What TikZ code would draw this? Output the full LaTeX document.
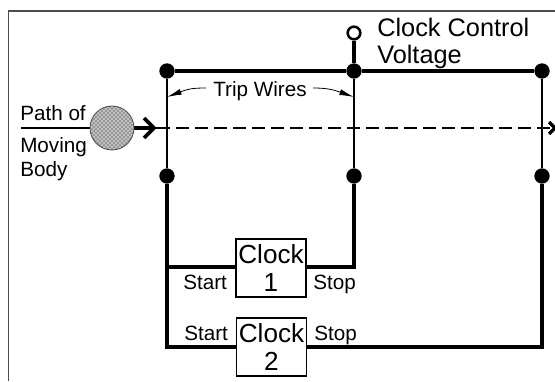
\documentclass[tikz,border=0pt]{standalone}
\usepackage{fontspec}
\setmainfont{Liberation Sans}
\usetikzlibrary{patterns,arrows.meta}
\tikzset{
 thick wire/.style={line width=2.8pt,line cap=butt},
 thin wire/.style={line width=2pt},
 dotnode/.style={circle,fill=black,inner sep=0pt,minimum size=11.5pt},
 opennode/.style={circle,draw=black,fill=white,line width=1.9pt,inner sep=0pt,minimum size=9.5pt},
 clockbox/.style={draw=black,fill=white,line width=0.9pt,inner sep=0pt,align=center,font=\fontsize{19.6}{21.7}\selectfont},
 lab/.style={inner sep=0pt,anchor=base west,font=\fontsize{15.5}{17}\selectfont},
 biglab/.style={inner sep=0pt,anchor=base west,font=\fontsize{19}{21}\selectfont},
 pointer/.style={line width=0.6pt,-{Latex[length=11pt,width=4.5pt]}},
}
\begin{document}
\begin{tikzpicture}[x=0.75pt,y=-0.75pt]
\useasboundingbox (0,0) rectangle (555,381);
\draw[line width=0.8pt,draw=black!70] (8.5,381) -- (8.5,11) -- (555,11);
% nodes
\node[dotnode] (tl) at (167,71) {};
\node[dotnode] (tm) at (354,71) {};
\node[dotnode] (tr) at (542,71) {};
\node[dotnode] (bl) at (167,176) {};
\node[dotnode] (bm) at (354,176) {};
\node[dotnode] (br) at (542,176) {};
\node[opennode] (cv) at (354,33) {};
\node[clockbox,minimum width=52.5pt,minimum height=43.5pt] (c1) at (271,268) {Clock\\1};
\node[clockbox,minimum width=52pt,minimum height=43.5pt] (c2) at (271.5,347) {Clock\\2};
\coordinate (j1) at (167,267);
\coordinate (j2) at (167,347);
\coordinate (m1) at (354,267);
\coordinate (r2) at (542,347);
\coordinate (p0) at (21,128);
\coordinate (pa) at (157,128);
\coordinate (pe) at (555,128);
\coordinate (t1) at (206,88);
\coordinate (t2) at (167,97);
\coordinate (t3) at (313,88);
\coordinate (t4) at (354,97);
% wires
\draw[thick wire] (tl) -- (tm);
\draw[thick wire] (tm) -- (tr);
\draw[thick wire] (cv) -- (tm);
\draw[thin wire] (tl) -- (bl);
\draw[thin wire] (tm) -- (bm);
\draw[thin wire] (tr) -- (br);
\draw[thick wire,line join=miter] (bl) -- (j2) -- (c2.west |- j2);
\draw[thick wire] (j1) -- (c1.west |- j1);
\draw[thick wire,line join=miter] (bm) -- (m1) -- (c1.east |- m1);
\draw[thick wire,line join=miter] (br) -- (r2) -- (c2.east |- r2);
% path of body
\draw[line width=1.9pt] (p0) -- (pa);
\draw[thick wire] (134,128) -- (153,128);
\draw[line width=2.8pt,line join=miter] (144,118) -- (154,128) -- (144,138);
\draw[line width=1.6pt,dash pattern=on 10pt off 4.25pt] (pa) -- (pe);
\draw[line width=2.6pt] (549,122) -- (555,128) -- (549,134);
\node[circle,draw=black!70,line width=0.6pt,minimum size=33pt,inner sep=0pt,
  preaction={fill=black!25},pattern=crosshatch dots,pattern color=black!90] (ball) at (112,128) {};
% labels
\node[lab] (l1) at (20,120.5) {Path of};
\node[lab] (l2) at (20,152.5) {Moving};
\node[lab] (l3) at (20,176.5) {Body};
\node[lab] (tw) at (213,96.5) {Trip Wires};
\draw[pointer] (t1) .. controls (192,88) and (188,89) .. (t2);
\draw[pointer] (t3) .. controls (328,88) and (334,90) .. (t4);
\node[biglab] (cc1) at (377,37) {Clock Control};
\node[biglab] (cc2) at (377,64) {Voltage};
\node[lab] (s1) at (183,289) {Start};
\node[lab] (s2) at (313,289) {Stop};
\node[lab] (s3) at (184,340) {Start};
\node[lab] (s4) at (314,340) {Stop};
\end{tikzpicture}
\end{document}
